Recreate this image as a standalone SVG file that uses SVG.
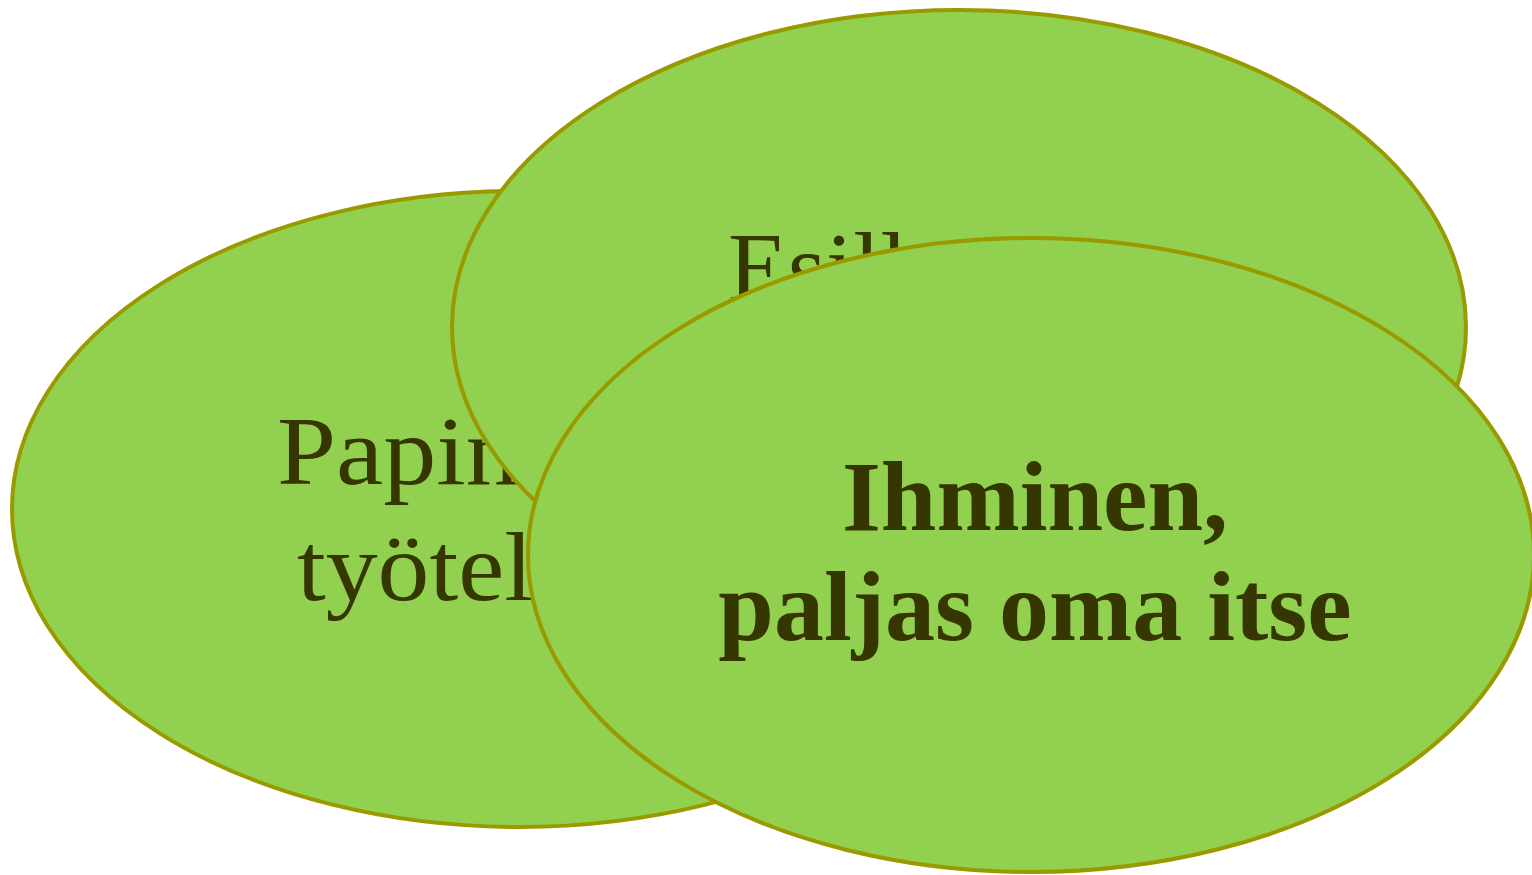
<svg xmlns="http://www.w3.org/2000/svg" width="1532" height="875" viewBox="0 0 1532 875">
<style>
.n{fill:#92d050;stroke:#999900;stroke-width:4}
.t{font-family:"Liberation Serif","DejaVu Serif",serif;font-size:98px;fill:#363600}
.b{font-weight:bold;text-anchor:middle;font-size:100px}
</style>
<rect width="1532" height="875" fill="#ffffff"/>
<g id="node-left">
<ellipse class="n" cx="519" cy="509" rx="507" ry="318"/>
<text class="t" x="277" y="484" textLength="242" lengthAdjust="spacingAndGlyphs">Papin</text>
<text class="t" x="297" y="600" textLength="236" lengthAdjust="spacingAndGlyphs">työtel</text>
</g>
<g id="node-top">
<ellipse class="n" cx="959" cy="327" rx="507" ry="317"/>
<text class="t" x="728" y="300">Esill</text>
</g>
<g id="node-front">
<ellipse class="n" cx="1031" cy="555" rx="503" ry="317"/>
<text class="t b" x="1035" y="530">Ihminen,</text>
<text class="t b" x="1035" y="640">paljas oma itse</text>
</g>
<g id="connectors"/>
</svg>
